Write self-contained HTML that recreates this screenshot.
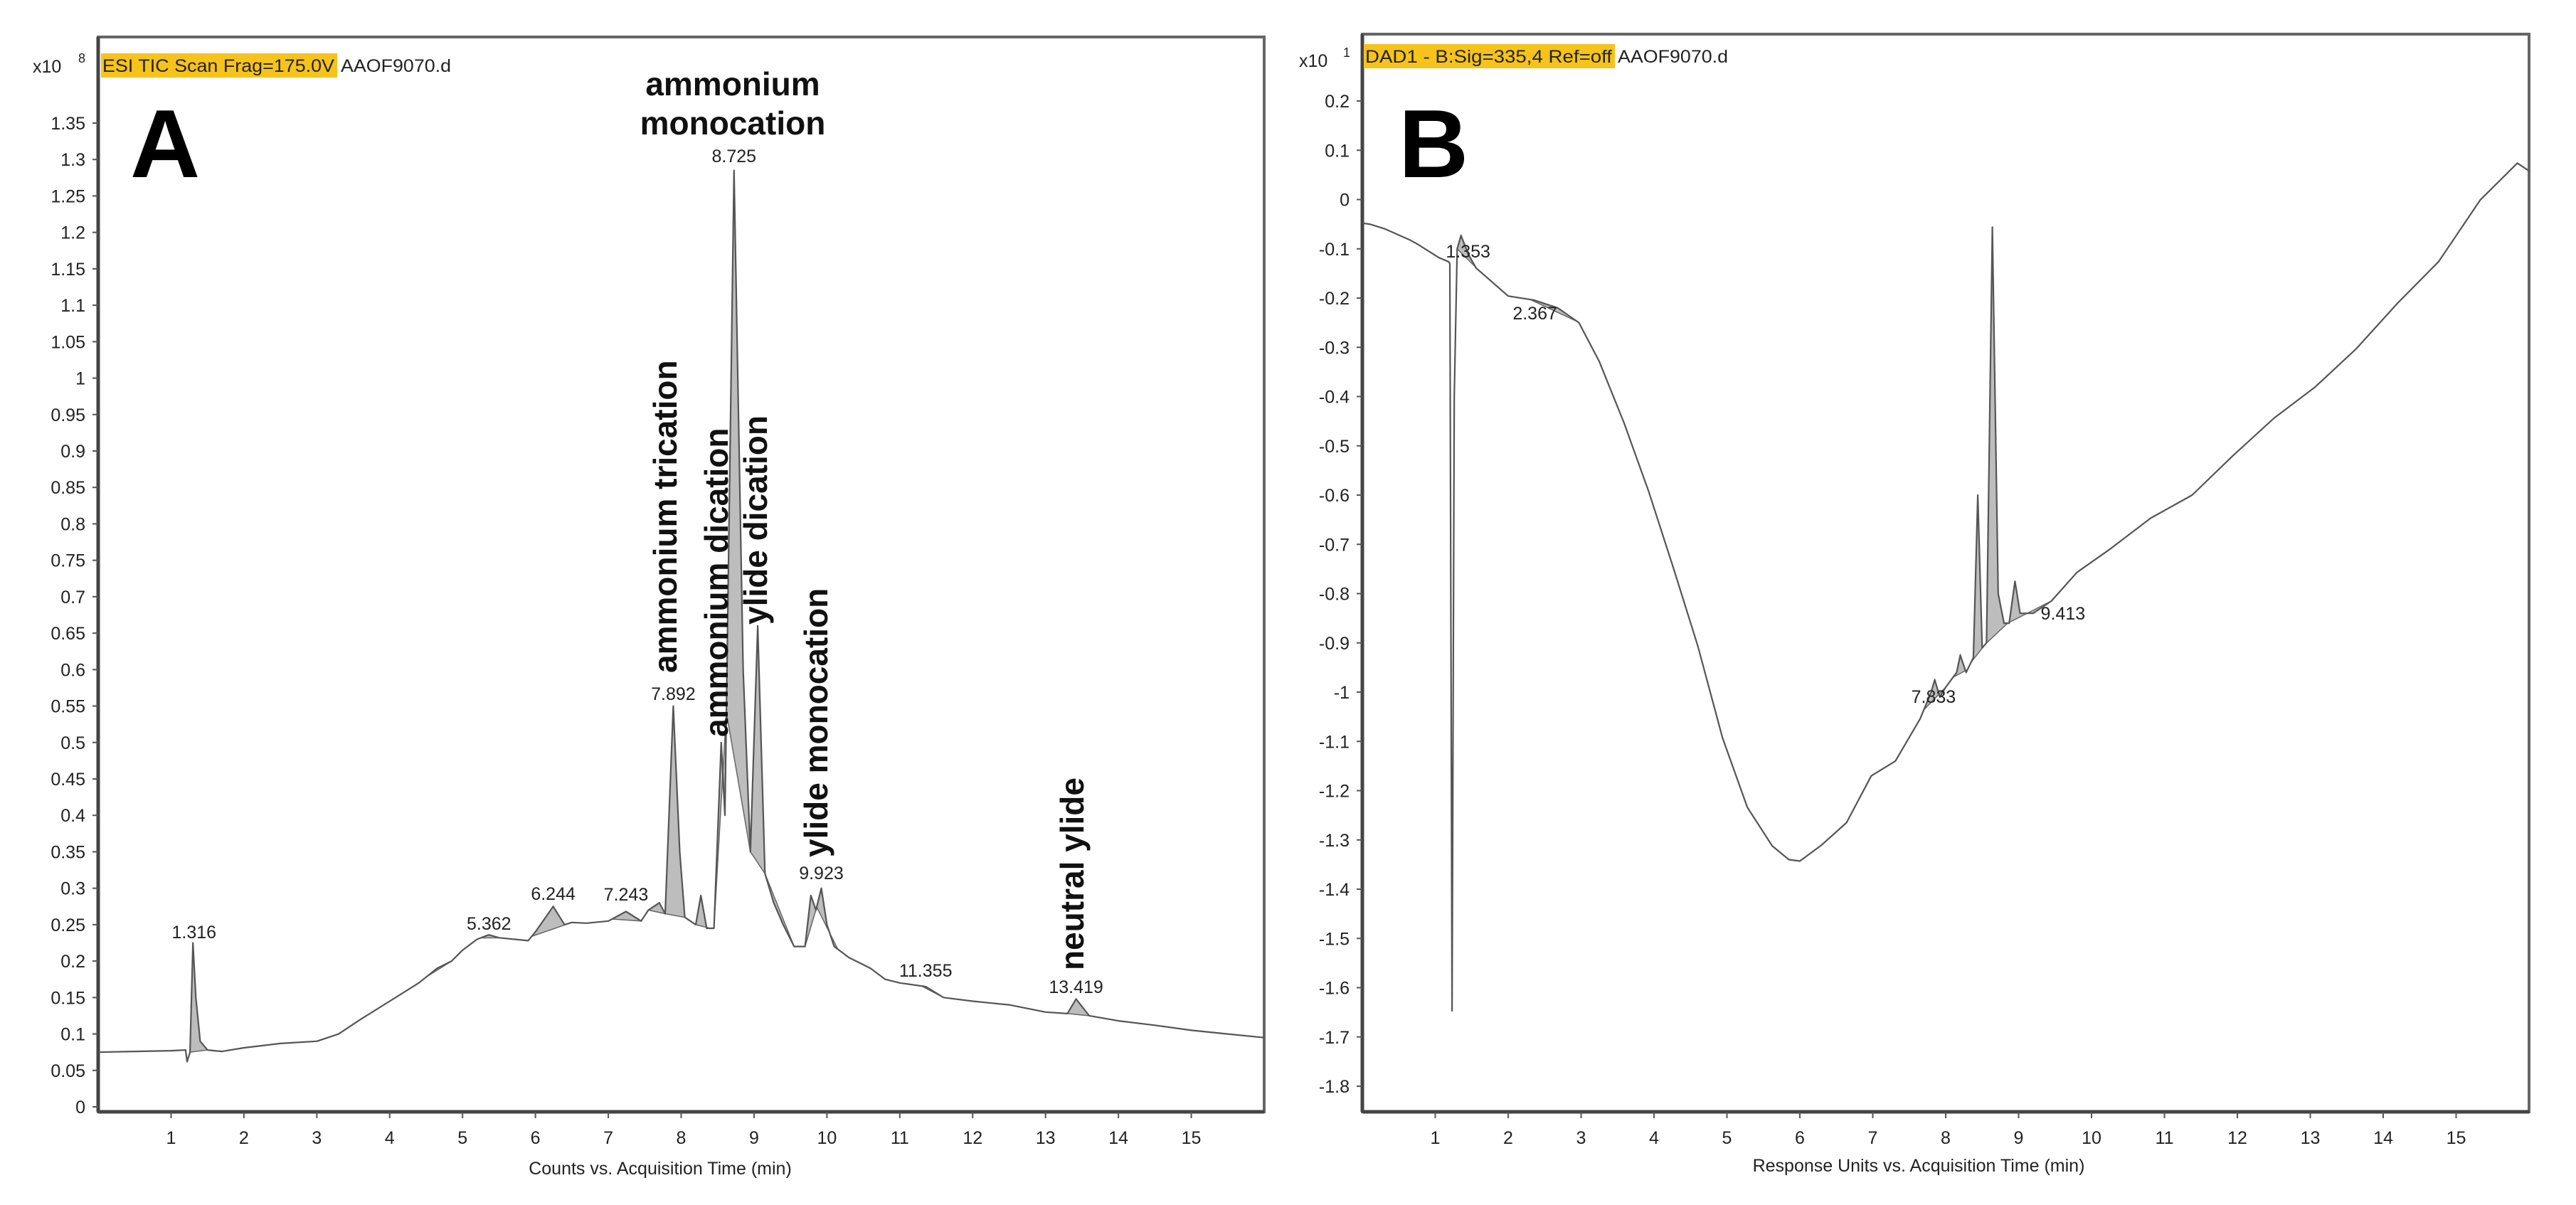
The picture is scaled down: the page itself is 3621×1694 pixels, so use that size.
<!DOCTYPE html>
<html><head><meta charset="utf-8">
<style>
html,body{margin:0;padding:0;background:#fff;}
svg{display:block;font-family:"Liberation Sans",sans-serif;}
</style></head>
<body>
<svg id="fig" width="3621" height="1694" viewBox="0 0 3621 1694" xmlns="http://www.w3.org/2000/svg">
<rect width="3621" height="1694" fill="#fff"/>
<g id="panelA"></g>
<g id="panelB"></g>
</svg>
<script>
// ---- Panel A data (x10^8 counts) ----
const timesA = [0,0.5,1.0,1.2,1.22,1.26,1.3,1.34,1.4,1.5,1.7,2.0,2.5,3.0,3.3,3.6,4.0,4.4,4.65,4.75,4.85,5.0,5.2,5.36,5.5,5.9,6.0,6.244,6.4,6.5,6.7,7.0,7.243,7.45,7.55,7.7,7.78,7.892,7.98,8.05,8.2,8.27,8.35,8.45,8.55,8.6,8.725,8.85,8.95,9.05,9.15,9.27,9.4,9.55,9.7,9.78,9.85,9.923,10.0,10.1,10.3,10.6,10.8,11.0,11.355,11.6,12.0,12.5,13.0,13.3,13.419,13.6,14.0,14.5,15.0,15.5,16.0];
const valuesA = [0.075,0.076,0.077,0.078,0.062,0.075,0.225,0.15,0.09,0.078,0.076,0.081,0.087,0.09,0.1,0.12,0.145,0.17,0.19,0.195,0.2,0.215,0.23,0.236,0.232,0.228,0.24,0.275,0.25,0.253,0.252,0.255,0.268,0.255,0.27,0.28,0.265,0.55,0.35,0.26,0.25,0.29,0.245,0.245,0.5,0.4,1.285,0.6,0.35,0.66,0.32,0.28,0.25,0.22,0.22,0.29,0.27,0.3,0.25,0.22,0.205,0.19,0.175,0.17,0.165,0.15,0.145,0.14,0.13,0.128,0.148,0.125,0.118,0.112,0.105,0.1,0.095];
const fillStartA = [1.26,4.5,5.25,5.95,7.05,7.55,7.78,8.2,8.45,8.62,8.95,9.15,9.7,9.86,11.3,13.3];
const fillEndA   = [1.5,4.85,5.5,6.5,7.45,7.78,8.05,8.4,8.62,8.95,9.15,9.55,9.86,10.15,11.6,13.6];
const peakLabelsA = ["1.316","5.362","6.244","7.243","7.892","8.725","9.923","11.355","13.419"];
const peakTimesA  = [1.316,5.362,6.244,7.243,7.892,8.725,9.923,11.355,13.419];
const yTicksA = [0,0.05,0.1,0.15,0.2,0.25,0.3,0.35,0.4,0.45,0.5,0.55,0.6,0.65,0.7,0.75,0.8,0.85,0.9,0.95,1,1.05,1.1,1.15,1.2,1.25,1.3,1.35];
const xTicks = [1,2,3,4,5,6,7,8,9,10,11,12,13,14,15];

// ---- Panel B data (x10^1 response units) ----
const timesB = [0,0.1,0.3,0.65,0.75,1.05,1.18,1.2,1.23,1.26,1.3,1.353,1.45,1.56,2.0,2.35,2.68,2.97,3.25,3.59,3.93,4.27,4.6,4.94,5.28,5.62,5.85,6.0,6.3,6.64,6.98,7.31,7.65,7.8,7.85,7.92,8.0,8.15,8.2,8.28,8.38,8.44,8.5,8.56,8.64,8.72,8.8,8.87,8.95,9.02,9.2,9.45,9.8,10.25,10.81,11.38,11.94,12.5,13.07,13.63,14.2,14.76,15.33,15.84,16.0];
const valuesB = [-0.048,-0.05,-0.059,-0.082,-0.09,-0.118,-0.126,-0.13,-1.647,-0.4,-0.1,-0.073,-0.11,-0.139,-0.196,-0.204,-0.22,-0.25,-0.329,-0.454,-0.594,-0.75,-0.906,-1.093,-1.234,-1.312,-1.34,-1.343,-1.31,-1.265,-1.17,-1.14,-1.054,-1.0,-0.975,-1.01,-0.99,-0.96,-0.925,-0.96,-0.93,-0.6,-0.91,-0.9,-0.056,-0.8,-0.86,-0.86,-0.775,-0.84,-0.84,-0.815,-0.757,-0.71,-0.647,-0.6,-0.52,-0.444,-0.38,-0.303,-0.21,-0.126,-0.001,0.074,0.058];
const fillStartB = [1.3,2.3,7.7,8.1,8.35,8.55,8.85];
const fillEndB   = [1.6,2.95,8.0,8.3,8.55,8.85,9.45];
const peakLabelsB = ["1.353","2.367","7.833","9.413"];
const peakTimesB  = [1.353,2.367,7.833,9.413];
const yTicksB = [0.2,0.1,0,-0.1,-0.2,-0.3,-0.4,-0.5,-0.6,-0.7,-0.8,-0.9,-1,-1.1,-1.2,-1.3,-1.4,-1.5,-1.6,-1.7,-1.8];

const NS = "http://www.w3.org/2000/svg";
function mk(tag, attrs, parent){
  const e = document.createElementNS(NS, tag);
  for (const k in attrs) e.setAttribute(k, attrs[k]);
  parent.appendChild(e);
  return e;
}
function interp(ts, vs, t){
  for (let i=0;i<ts.length-1;i++){
    if (t>=ts[i] && t<=ts[i+1]){ const f=(t-ts[i])/(ts[i+1]-ts[i]); return vs[i]+f*(vs[i+1]-vs[i]); }
  }
  return vs[vs.length-1];
}

function drawPanel(g, cfg, ts, vs, fs, fe, plabels, ptimes, plabelOffsets, yTicks){
  const X = t => cfg.x0 + (t - 0) * (cfg.x1 - cfg.x0) / 16;
  const Y = v => cfg.yA + (cfg.vA - v) * (cfg.yB - cfg.yA) / (cfg.vA - cfg.vB);
  const fr = mk('rect', {x:cfg.x0, y:cfg.top, width:cfg.x1-cfg.x0, height:cfg.bottom-cfg.top, fill:'none', stroke:'#666', 'stroke-width':4}, g);
  
  
  mk('line', {x1:cfg.x0, y1:cfg.top, x2:cfg.x0, y2:cfg.bottom, stroke:'#444', 'stroke-width':5}, g);
  mk('line', {x1:cfg.x0, y1:cfg.bottom, x2:cfg.x1, y2:cfg.bottom, stroke:'#444', 'stroke-width':5}, g);
  yTicks.forEach(v => {
    const y = Y(v);
    mk('line', {x1:cfg.x0-8, y1:y, x2:cfg.x0, y2:y, stroke:'#555', 'stroke-width':2}, g);
    const t = mk('text', {x:cfg.x0-18, y:y+9, 'font-size':25, 'text-anchor':'end', fill:'#222'}, g);
    t.textContent = String(v);
    
    
  });
  xTicks.forEach(v => {
    const x = X(v);
    mk('line', {x1:x, y1:cfg.bottom, x2:x, y2:cfg.bottom+9, stroke:'#555', 'stroke-width':2}, g);
    const t = mk('text', {x:x, y:cfg.bottom+45, 'font-size':25, 'text-anchor':'middle', fill:'#222'}, g);
    t.textContent = String(v);
    
    
  });
  fs.forEach((s, i) => {
    const e = fe[i];
    let pts = [[X(s), Y(interp(ts,vs,s))]];
    for (let k=0;k<ts.length;k++) if (ts[k]>s && ts[k]<e) pts.push([X(ts[k]), Y(vs[k])]);
    pts.push([X(e), Y(interp(ts,vs,e))]);
    const poly = mk('polygon', {points: pts.map(p=>p.join(',')).join(' '), fill:'#bdbdbd', stroke:'#666', 'stroke-width':1.5}, g);
    
    
  });
  const d = ts.map((t,i)=> (i?'L':'M') + X(t).toFixed(1) + ',' + Y(vs[i]).toFixed(1)).join(' ');
  const path = mk('path', {d:d, fill:'none', stroke:'#555', 'stroke-width':2.2, 'stroke-linejoin':'round'}, g);
  
  
  plabels.forEach((lab, i) => {
    const o = plabelOffsets[i];
    const t = mk('text', {x:X(ptimes[i]) + o[0], y:o[1], 'font-size':25, 'text-anchor':'middle', fill:'#222'}, g);
    t.textContent = lab;
    
    
  });
}

const gA = document.getElementById('panelA');
drawPanel(gA, {x0:138, x1:1777, top:52, bottom:1563, yA:1556, vA:0, yB:173, vB:1.35},
  timesA, valuesA, fillStartA, fillEndA, peakLabelsA, peakTimesA,
  [[0,1319],[0,1307],[0,1265],[0,1266],[0,984],[0,228],[0,1236],[0,1373],[0,1396]], yTicksA);

const gB = document.getElementById('panelB');
drawPanel(gB, {x0:1915, x1:3555, top:48, bottom:1563, yA:142, vA:0.2, yB:1527, vB:-1.8},
  timesB, valuesB, fillStartB, fillEndB, peakLabelsB, peakTimesB,
  [[10,362],[0,449],[0,988],[20,871]], yTicksB);
</script>

<svg style="position:absolute;left:0;top:0" width="3621" height="1694" viewBox="0 0 3621 1694" xmlns="http://www.w3.org/2000/svg">
  <g font-family="Liberation Sans, sans-serif" fill="#222">
    <text x="46" y="102" font-size="25">x10</text>
    <text x="110" y="88" font-size="18">8</text>
    <rect x="142" y="75" width="332" height="34" fill="#f6c31c"/>
    <text x="144" y="101" font-size="25" textLength="326" lengthAdjust="spacingAndGlyphs">ESI TIC Scan Frag=175.0V</text>
    <text x="479" y="101" font-size="25" textLength="155" lengthAdjust="spacingAndGlyphs">AAOF9070.d</text>
    <text x="183" y="249" font-size="136" font-weight="bold" fill="#000">A</text>
    <text x="928" y="1651" font-size="25" text-anchor="middle">Counts vs. Acquisition Time (min)</text>

    <text x="1030" y="134" font-size="46" font-weight="bold" text-anchor="middle" fill="#111">ammonium</text>
    <text x="1030" y="189" font-size="46" font-weight="bold" text-anchor="middle" fill="#111">monocation</text>
    <text transform="translate(951,946) rotate(-90)" font-size="46" font-weight="bold" fill="#111">ammonium trication</text>
    <text transform="translate(1023,1036) rotate(-90)" font-size="46" font-weight="bold" fill="#111">ammonium dication</text>
    <text transform="translate(1078,878) rotate(-90)" font-size="46" font-weight="bold" fill="#111">ylide dication</text>
    <text transform="translate(1163,1205) rotate(-90)" font-size="46" font-weight="bold" fill="#111">ylide monocation</text>
    <text transform="translate(1523,1364) rotate(-90)" font-size="46" font-weight="bold" fill="#111">neutral ylide</text>

    <text x="1826" y="94" font-size="25">x10</text>
    <text x="1888" y="80" font-size="18">1</text>
    <rect x="1917" y="62" width="353" height="34" fill="#f6c31c"/>
    <text x="1919" y="88" font-size="25" textLength="347" lengthAdjust="spacingAndGlyphs">DAD1 - B:Sig=335,4  Ref=off</text>
    <text x="2274" y="88" font-size="25" textLength="155" lengthAdjust="spacingAndGlyphs">AAOF9070.d</text>
    <text x="1966" y="249" font-size="136" font-weight="bold" fill="#000">B</text>
    <text x="2697" y="1647" font-size="25" text-anchor="middle">Response Units vs. Acquisition Time (min)</text>
  </g>
</svg>
</body></html>
